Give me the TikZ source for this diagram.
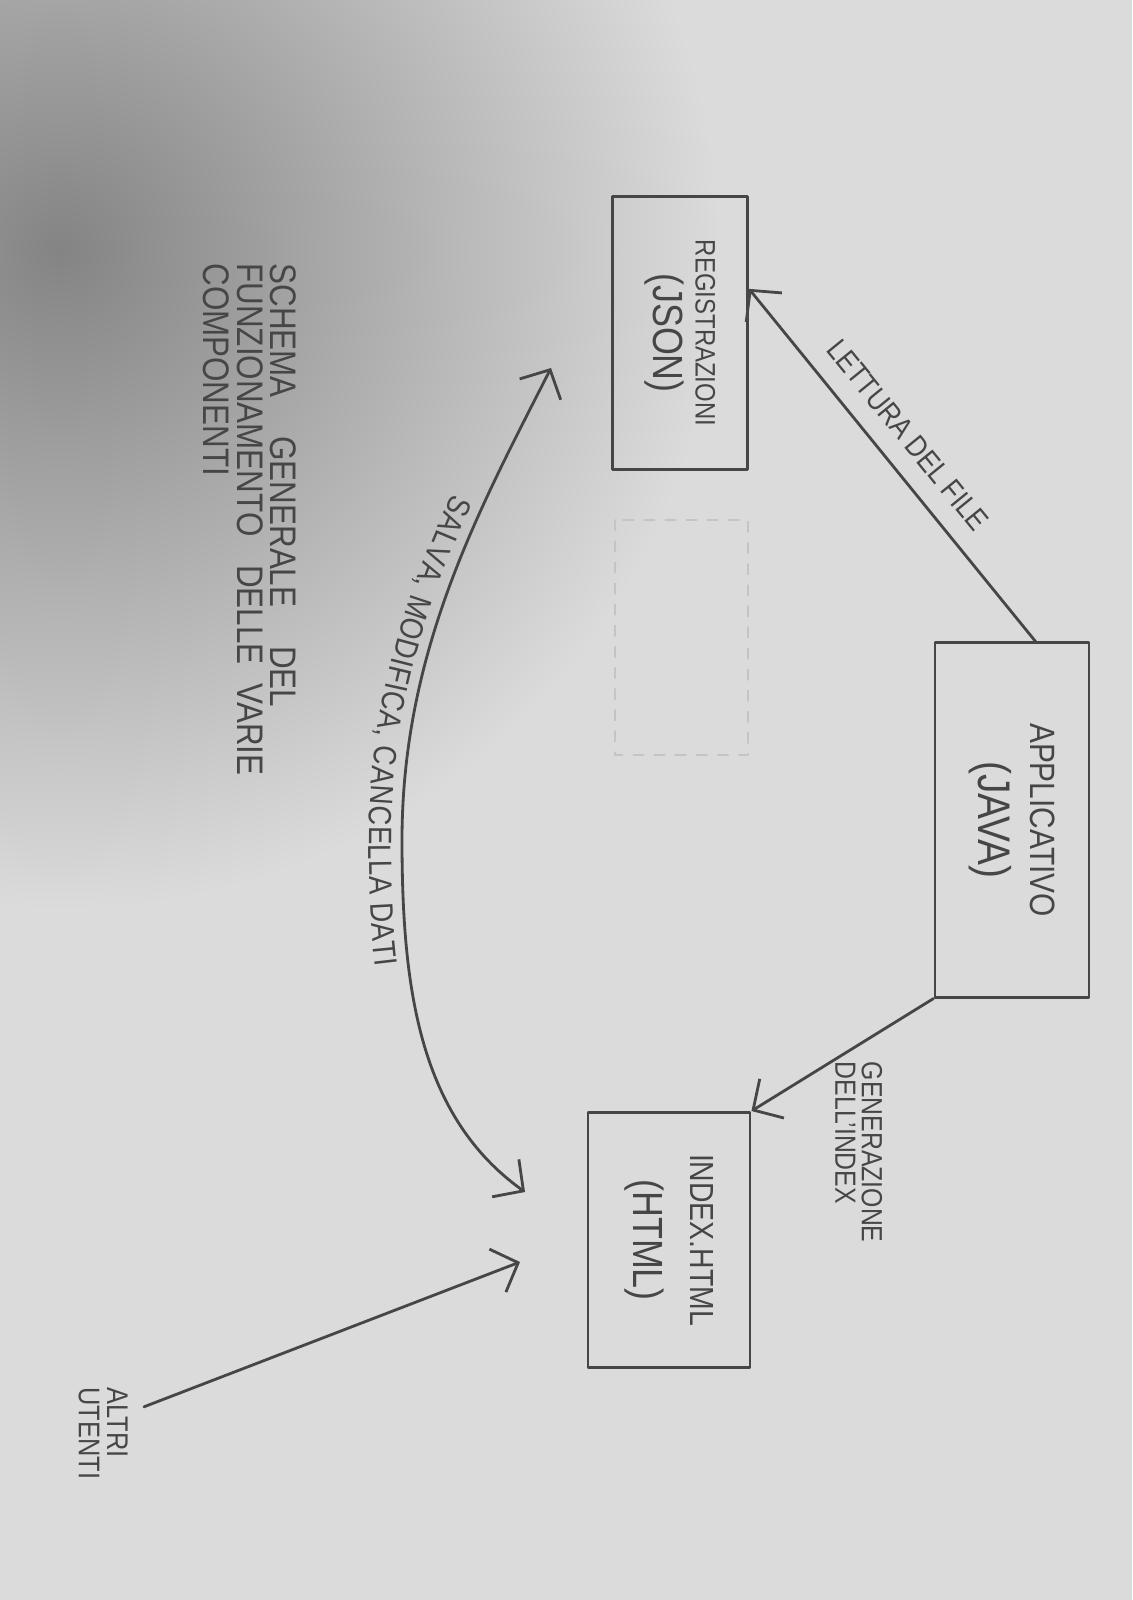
\documentclass[tikz,border=0pt]{standalone}
\usepackage{fontspec}
\setmainfont{Liberation Sans}[FakeStretch=0.85]
\usetikzlibrary{arrows.meta, calc, decorations.text}

\definecolor{carta}{RGB}{219,219,219}
\definecolor{ombra}{RGB}{132,132,132}
\definecolor{matita}{RGB}{70,70,70}
\definecolor{gomma}{RGB}{196,196,196}

\begin{document}
\begin{tikzpicture}[x=0.01cm, y=-0.01cm, color=matita, line width=0.8pt,
        line cap=round, line join=round,
        >={Straight Barb[length=2.2mm, width=4.6mm]},
        blocco/.style={draw, rotate=-90, align=center, inner sep=0pt},
        nota/.style={rotate=-90, align=left, inner sep=0pt}]

    % ==========================================
    % 0. Foglio
    % ==========================================
    \useasboundingbox (0,0) rectangle (1132,1600);
    \fill[carta] (0,0) rectangle (1132,1600);
    \begin{scope}
        \clip (0,0) rectangle (1132,1600);
        \shade[inner color=ombra, outer color=carta] (60,250) circle (6.6cm);
    \end{scope}

    % ==========================================
    % 1. Titolo
    % ==========================================
    \node[nota, anchor=north west, font=\fontsize{10.5}{9.5}\selectfont] (titolo) at (298,262)
        {SCHEMA\hspace{3mm} GENERALE\hspace{3mm} DEL\\FUNZIONAMENTO\hspace{2mm} DELLE\hspace{1mm} VARIE\\COMPONENTI};

    % ==========================================
    % 2. Blocchi
    % ==========================================
    \node[blocco, minimum width=2.73cm, minimum height=1.35cm, font=\fontsize{8}{12}\selectfont] (reg) at (680,333)
        {REGISTRAZIONI\\{\fontsize{12}{12}\selectfont (JSON)}};
    \node[blocco, minimum width=3.54cm, minimum height=1.54cm, font=\fontsize{10}{15}\selectfont] (app) at (1012,820)
        {APPLICATIVO\\{\fontsize{13}{13}\selectfont (JAVA)}};
    \node[blocco, minimum width=2.55cm, minimum height=1.62cm, font=\fontsize{9.5}{16}\selectfont] (index) at (669,1240)
        {INDEX.HTML\\{\fontsize{12}{12}\selectfont (HTML)}};

    % blocco cancellato
    \draw[gomma, dashed, line width=0.4pt] (615,520) rectangle (748,755);

    % ==========================================
    % 3. Frecce tra i blocchi
    % ==========================================
    \draw[->] ($(app.south west)!0.65!(app.north west)$)
        -- node[sloped, above=2pt, pos=0.53, font=\fontsize{8.6}{10}\selectfont] {LETTURA DEL FILE}
        ($(reg.north west)!0.34!(reg.north east)$);

    \draw[->] (app.south east) -- (index.north west);
    \node[nota, anchor=north west, font=\fontsize{8.3}{7.5}\selectfont] (generazione)
        at ($(app.south east)+(-50,62)$) {GENERAZIONE\\DELL'INDEX};

    % ==========================================
    % 4. Salva, modifica, cancella dati
    % ==========================================
    \coordinate (datiSopra) at (551,368);
    \coordinate (datiSotto) at (525,1192);
    \draw[<->, postaction={decorate, decoration={text along path, raise=-3.3mm,
            text align={left indent=1.55cm},
            text={|\fontsize{9.2}{10}\selectfont\color{matita}|SALVA, MODIFICA, CANCELLA DATI}}}]
        (datiSopra) .. controls (480,508) and (402,650) .. (402,840)
        .. controls (402,990) and (420,1117) .. (datiSotto);

    % ==========================================
    % 5. Altri utenti
    % ==========================================
    \node[nota, anchor=north west, font=\fontsize{8.5}{8}\selectfont] (altri) at (129,1386) {ALTRI\\UTENTI};
    \coordinate (fineUtenti) at (520,1262);
    \draw[->] ($(altri.north west)!0.22!(altri.north east)+(15,0)$) -- (fineUtenti);

\end{tikzpicture}
\end{document}
